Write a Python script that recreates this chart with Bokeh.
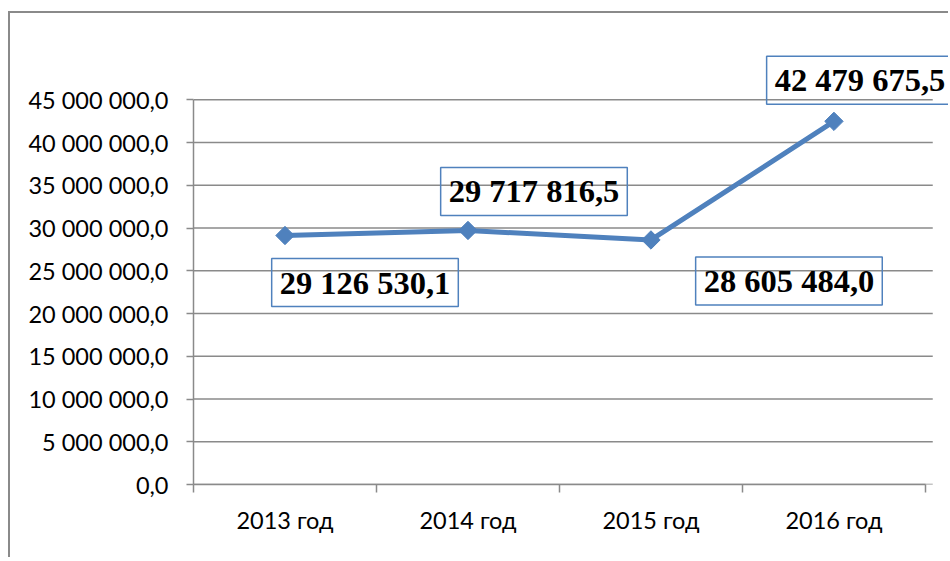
from bokeh.plotting import figure
from bokeh.models import FixedTicker, Label, Range1d
from bokeh.embed import file_html
from bokeh.resources import INLINE

categories = ["2013 год", "2014 год", "2015 год", "2016 год"]
values = [29126530.1, 29717816.5, 28605484.0, 42479675.5]
y_ticks = [0, 5000000, 10000000, 15000000, 20000000, 25000000, 30000000, 35000000, 40000000, 45000000]

# label box offsets (screen px) relative to each point
label_dx = [80, 66, 138, 26]
label_dy = [-47, 39, -41, 41]

BLUE = "#4F81BD"
GRID = "#8a8a8a"
Y_TOP = 50767000      # range headroom so data labels are not clipped
X_END = 4.137         # frame reaches the window edge
GRID_END = 4.04


def fmt(v):
    s = f"{v:,.1f}"
    return s.replace(",", " ").replace(".", ",")


xs = [i + 0.5 for i in range(len(categories))]
n = len(categories)

p = figure(width=940, height=546, output_backend="svg", toolbar_location=None,
           x_range=Range1d(0, X_END), y_range=Range1d(0, Y_TOP),
           min_border_left=183, min_border_right=0, min_border_top=37, min_border_bottom=75,
           styles={"border-left": "2px solid #8a8a8a", "border-top": "2px solid #8a8a8a",
                   "margin-left": "8px", "margin-top": "11px"})
p.outline_line_color = None
p.background_fill_color = "white"
p.border_fill_color = "white"

# grid lines drawn from tick list
p.xgrid.visible = False
p.ygrid.visible = False
p.segment(x0=[0] * len(y_ticks), y0=y_ticks, x1=[GRID_END] * len(y_ticks), y1=y_ticks,
          line_color=GRID, line_width=1.5, level="underlay")

p.yaxis.ticker = FixedTicker(ticks=y_ticks)
p.yaxis.bounds = (0, y_ticks[-1])
p.yaxis.major_label_overrides = {t: fmt(t) for t in y_ticks}
p.yaxis.axis_line_color = GRID
p.yaxis.axis_line_width = 1.5
p.yaxis.major_tick_line_color = GRID
p.yaxis.major_tick_line_width = 1.5
p.yaxis.major_tick_out = 7
p.yaxis.major_tick_in = 0
p.yaxis.minor_tick_line_color = None
p.yaxis.major_label_standoff = 18
p.yaxis.major_label_text_font = "Lato"
p.yaxis.major_label_text_font_size = "23.5px"
p.yaxis.major_label_text_color = "black"

p.xaxis.ticker = FixedTicker(ticks=xs, minor_ticks=list(range(n + 1)))
p.xaxis.bounds = (0, n)
p.xaxis.major_label_overrides = {x: c for x, c in zip(xs, categories)}
p.xaxis.axis_line_color = GRID
p.xaxis.axis_line_width = 1.5
p.xaxis.major_tick_line_color = None
p.xaxis.major_tick_out = 8
p.xaxis.major_tick_in = 0
p.xaxis.minor_tick_line_color = GRID
p.xaxis.minor_tick_line_width = 1.5
p.xaxis.minor_tick_out = 8
p.xaxis.minor_tick_in = 0
p.xaxis.major_label_standoff = 13
p.xaxis.major_label_text_font = "Lato"
p.xaxis.major_label_text_font_size = "23.5px"
p.xaxis.major_label_text_color = "black"

# series
p.line(xs, values, line_color=BLUE, line_width=5)
p.scatter(xs, values, marker="square", size=13, angle=0.785398, fill_color=BLUE, line_color=BLUE)

# data labels
for x, v, dx, dy in zip(xs, values, label_dx, label_dy):
    lab = Label(x=x, y=v, x_offset=dx, y_offset=dy, text=fmt(v),
                text_align="center", text_baseline="middle",
                text_font="Liberation Serif", text_font_style="bold", text_font_size="32.5px",
                text_color="black", border_line_color=BLUE, border_line_width=1.5,
                background_fill_color=None, padding=dict(x=8, y=6))
    p.add_layout(lab)

open("out.html", "w").write(file_html(p, INLINE))
